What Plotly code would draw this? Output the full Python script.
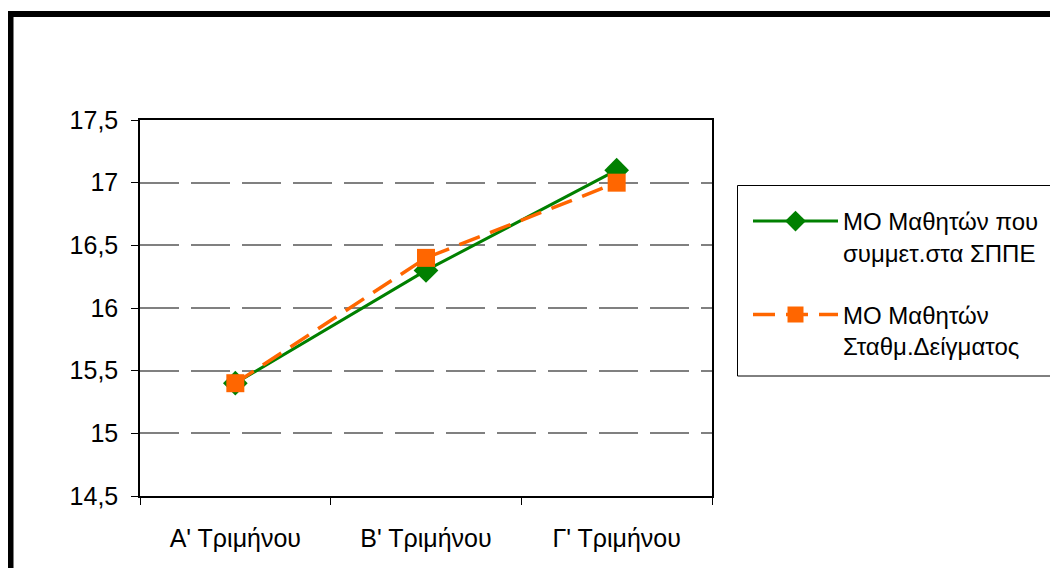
import plotly.graph_objects as go

categories = ["Α' Τριμήνου", "Β' Τριμήνου", "Γ' Τριμήνου"]
series_sppe = [15.4, 16.3, 17.1]
series_sample = [15.4, 16.4, 17.0]
name_sppe = "ΜΟ Μαθητών που<br>συμμετ.στα ΣΠΠΕ"
name_sample = "ΜΟ Μαθητών<br>Σταθμ.Δείγματος"
y_ticks = [14.5, 15, 15.5, 16, 16.5, 17, 17.5]

OFF = 8  # page body margin
W, H = 1058 - OFF, 568 - OFF
L, R, T, B = 140 - OFF, 346, 120 - OFF, 72
pw, ph = W - L - R, H - T - B

def px(x):
    return (x - OFF - L) / pw

def py(y):
    return (H - B - (y - OFF)) / ph

FONT = "Liberation Sans, Arial, sans-serif"

fig = go.Figure()
fig.add_trace(go.Scatter(
    x=categories, y=series_sppe, name=name_sppe, mode="lines+markers",
    legendgroup="a",
    line=dict(color="#008000", width=3),
    marker=dict(symbol="diamond", size=19, color="#008000"),
))
fig.add_trace(go.Scatter(
    x=categories, y=series_sample, name=name_sample, mode="lines+markers",
    legendgroup="b",
    line=dict(color="#FF6600", width=3.5, dash="22px,11px"),
    marker=dict(symbol="square", size=18, color="#FF6600"),
))

fig.update_layout(
    width=W, height=H,
    margin=dict(l=L, r=R, t=T, b=B, autoexpand=False),
    paper_bgcolor="white", plot_bgcolor="white",
    separators=",.",
    font=dict(family=FONT, size=25, color="black"),
    showlegend=True,
    legend=dict(
        x=px(748), y=py(199), xanchor="left", yanchor="top",
        bgcolor="rgba(0,0,0,0)", borderwidth=0,
        font=dict(family=FONT, size=24, color="black"),
        itemwidth=85, valign="top", tracegroupgap=28,
        traceorder="grouped",
    ),
    xaxis=dict(
        type="category", range=[-0.5, 2.5], tickson="boundaries",
        showline=True, linecolor="black", linewidth=1.5, mirror=True,
        ticks="outside", ticklen=7, tickcolor="black", tickwidth=1,
        ticklabelstandoff=19, showgrid=False, zeroline=False,
        tickfont=dict(family=FONT, size=25),
    ),
    yaxis=dict(
        range=[14.5, 17.5], tickvals=y_ticks,
        showline=True, linecolor="black", linewidth=1.5, mirror=True,
        ticks="outside", ticklen=7, tickcolor="black", tickwidth=1,
        ticklabelstandoff=8,
        showgrid=True, gridcolor="#808080", gridwidth=1.5, griddash="39px,12px",
        zeroline=False,
        tickfont=dict(family=FONT, size=25),
    ),
    shapes=[
        # outer chart frame
        dict(type="rect", xref="paper", yref="paper",
             x0=px(10.5), x1=px(1080), y0=py(600), y1=py(14),
             line=dict(color="black", width=6), fillcolor="rgba(0,0,0,0)", layer="above"),
        # legend box
        dict(type="rect", xref="paper", yref="paper",
             x0=px(737.5), x1=px(1070), y0=py(376), y1=py(185.5),
             line=dict(color="black", width=1), fillcolor="rgba(0,0,0,0)"),
    ],
)

fig.write_html("out.html")
